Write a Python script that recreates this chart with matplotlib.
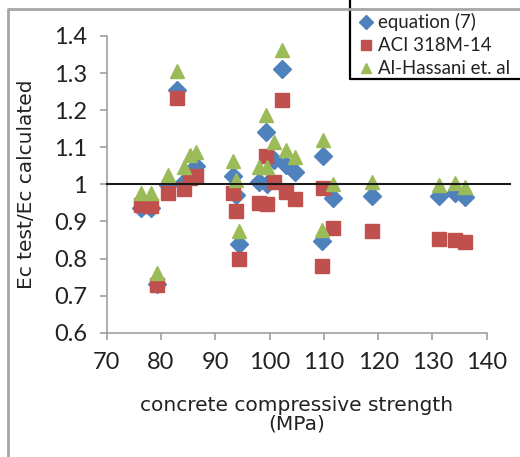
import matplotlib
matplotlib.use('Agg')
import matplotlib.pyplot as plt

# Compressive strength of each mix (MPa)
strength = [76.4, 78.1, 79.3, 81.2, 83.0, 84.2, 85.3, 86.4, 93.3, 93.9, 94.4, 98.0, 99.3,
            99.6, 100.9, 102.2, 103.0, 104.7, 109.6, 109.9, 111.6, 118.9, 131.2, 134.2, 136.0]

# Ec test / Ec calculated for each prediction model
ratio_eq7 = [0.935, 0.935, 0.73, 0.997, 1.254, 1.006, 1.03, 1.049, 1.023, 0.971, 0.838, 1.005, 1.14,
             1.0, 1.066, 1.31, 1.052, 1.032, 0.848, 1.077, 0.962, 0.969, 0.969, 0.976, 0.967]
ratio_aci = [0.944, 0.942, 0.728, 0.976, 1.234, 0.987, 1.016, 1.022, 0.977, 0.928, 0.80, 0.949, 1.076,
             0.946, 1.005, 1.227, 0.98, 0.96, 0.781, 0.989, 0.881, 0.874, 0.853, 0.85, 0.844]
ratio_hassani = [0.977, 0.977, 0.76, 1.025, 1.306, 1.047, 1.079, 1.088, 1.063, 1.012, 0.875, 1.047, 1.187,
                 1.047, 1.115, 1.362, 1.093, 1.075, 0.877, 1.12, 1.0, 1.007, 0.998, 1.003, 0.994]

series_names = ['equation (7)', 'ACI 318M-14', 'Al-Hassani et. al']

W, H = 520, 457
AX_L, AX_B, AX_W, AX_H = 106.7, 332.7, 380.0, 296.7   # axes box in pixels (from top-left)


def ax_xy(px, py):
    # pixel position (from the top-left corner) -> axes fraction
    return (px - AX_L) / AX_W, (AX_B - py) / AX_H


fig = plt.figure(figsize=(W / 100, H / 100), dpi=100)
ax = fig.add_axes([AX_L / W, 1 - AX_B / H, AX_W / W, AX_H / H])

ax.plot(strength, ratio_eq7, 'D', color='#4F81BD', ms=9.5, mec='#4F81BD', label=series_names[0], zorder=3)
ax.plot(strength, ratio_aci, 's', color='#C0504D', ms=10, mec='#C0504D', label=series_names[1], zorder=4)
ax.plot(strength, ratio_hassani, '^', color='#9BBB59', ms=10.5, mec='#9BBB59', label=series_names[2], zorder=5)

# reference line at ratio = 1
ax.plot([70, 144.3], [1, 1], color='#1a1a1a', lw=1.5, clip_on=False, zorder=6)

ax.set_xlim(70, 140)
ax.set_ylim(0.6, 1.4)
ax.set_xticks(range(70, 141, 10))
ax.set_yticks([0.6, 0.7, 0.8, 0.9, 1.0, 1.1, 1.2, 1.3, 1.4])
ax.set_yticklabels(['0.6', '0.7', '0.8', '0.9', '1', '1.1', '1.2', '1.3', '1.4'])

for side in ['top', 'right']:
    ax.spines[side].set_visible(False)
for side in ['left', 'bottom']:
    ax.spines[side].set_color('#A0A0A0')
    ax.spines[side].set_linewidth(1.2)
ax.tick_params(direction='out', length=5, width=1.2, color='#A0A0A0', pad=9,
               labelsize=17, labelcolor='#222222')
for lab in ax.get_xticklabels() + ax.get_yticklabels():
    lab.set_family('Lato')

ax.set_xlabel('concrete compressive strength\n(MPa)', fontsize=14.5, color='#222222',
              linespacing=1.0, va='top')
ax.xaxis.set_label_coords(0.5, -0.213)
ax.set_ylabel('Ec test/Ec calculated', fontsize=14.5, color='#222222', va='center')
ax.yaxis.set_label_coords(-0.21, 0.5)

# legend box, running off the top and right edges
x0, y0 = ax_xy(350, 79)
x1, y1 = ax_xy(560, -40)
ax.fill([x0, x1, x1, x0], [y0, y0, y1, y1], color='white', transform=ax.transAxes,
        clip_on=False, zorder=10)
ax.plot([x0, x0, x1], [y1, y0, y0], color='black', lw=1.6, transform=ax.transAxes,
        clip_on=False, zorder=11)

# chart area border
bx0, by0 = ax_xy(7.5, 9.5)
bx1, by1 = ax_xy(560, 500)
ax.plot([bx0, bx0, bx1], [by1, by0, by0], color='#A6A6A6', lw=2, transform=ax.transAxes,
        clip_on=False, zorder=12)

leg = fig.legend(loc='upper left', bbox_to_anchor=(359 / W, 1 - 13 / H), frameon=False,
                 prop={'family': 'Lato', 'size': 13.4}, handlelength=0.8, handletextpad=0.2,
                 labelspacing=0.33, borderpad=0, borderaxespad=0, numpoints=1, markerscale=0.75)
for t in leg.get_texts():
    t.set_color('#222222')

fig.savefig('out.png', dpi=100)
